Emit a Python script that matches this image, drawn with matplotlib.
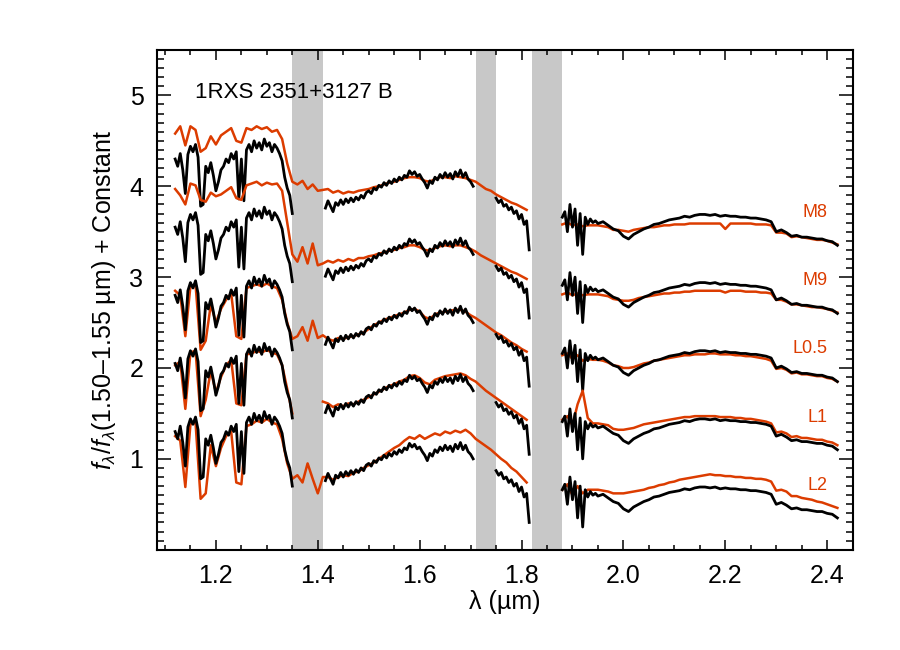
import numpy as np
import matplotlib
matplotlib.use('Agg')
import matplotlib.pyplot as plt
from matplotlib.ticker import MultipleLocator, FormatStrFormatter

plt.rcParams['font.family'] = ['Liberation Sans', 'DejaVu Sans']
plt.rcParams['mathtext.fontset'] = 'custom'
plt.rcParams['mathtext.rm'] = 'Liberation Sans'
plt.rcParams['mathtext.it'] = 'Liberation Sans:italic'

nan = np.nan

## object spectrum (1RXS 2351+3127 B), normalised at 1.50-1.55 um
obj_j = [1.30, 1.22, 1.36, 1.18, 0.92, 1.35, 1.44, 1.38, 1.46, 1.32,
         0.78, 0.80, 1.22, 1.15, 1.26, 1.12, 0.95, 1.05, 1.18, 1.22,
         1.30, 1.26, 1.36, 1.30, 1.38, 0.86, 1.30, 0.84, 1.40, 1.46,
         1.38, 1.50, 1.42, 1.48, 1.40, 1.52, 1.44, 1.48, 1.38, 1.46,
         1.42, 1.36, 1.28, 1.10, 0.98, 0.90, 0.70]
obj_h = [0.76, 0.84, 0.78, 0.72, 0.82, 0.79, 0.85, 0.80, 0.86, 0.82,
         0.87, 0.83, 0.88, 0.85, 0.90, 0.87, 0.93, 0.95, 0.92, 0.98,
         0.96, 1.01, 0.99, 1.04, 1.01, 1.06, 1.03, 1.08, 1.05, 1.10,
         1.07, 1.12, 1.10, 1.17, 1.13, 1.16, 1.11, 1.13, 1.08, 1.04,
         0.98, 1.06, 1.03, 1.10, 1.07, 1.13, 1.09, 1.15, 1.10, 1.14,
         1.08, 1.16, 1.11, 1.18, 1.10, 1.15, 1.08, 1.05, 1.00]
obj_h2 = [0.87, 0.82, 0.85, 0.78, 0.80, 0.74, 0.77, 0.70, 0.73, 0.64,
          0.69, 0.58, 0.62, 0.30]
obj_k1 = [0.66, 0.72, 0.50, 0.80, 0.55, 0.75, 0.35, 0.70, 0.25, 0.66,
          0.58, 0.64, 0.60, 0.62, 0.59]
obj_k2 = [0.61, 0.57, 0.53, 0.51, 0.45, 0.42, 0.47, 0.50, 0.53, 0.55,
          0.58, 0.59, 0.61, 0.63, 0.64, 0.65, 0.67, 0.66, 0.68, 0.69,
          0.69, 0.68, 0.69, 0.67, 0.68, 0.67, 0.67, 0.66, 0.66, 0.65,
          0.65, 0.64, 0.63, 0.61, 0.50, 0.52, 0.49, 0.45, 0.46, 0.44,
          0.44, 0.43, 0.42, 0.42, 0.40, 0.39, 0.35]

## templates, 1.12-1.81 um and 1.88-2.42 um in 0.01 um steps
m8_jh = [1.58, 1.66, 1.45, 1.66, 1.62, 1.38, 1.42, 1.55, 1.46, 1.56,
         1.60, 1.64, 1.50, 1.48, 1.64, 1.62, 1.66, 1.63, 1.65, 1.60,
         1.62, 1.52, 1.25, 1.05, 1.02, 1.06, 0.97, 1.02, 0.95, 0.96,
         0.97, 0.93, 0.95, 0.92, 0.94, 0.93, 0.95, 0.96, 0.97, 0.99,
         1.00, 1.02, 1.04, 1.05, 1.07, 1.09, 1.10, 1.10, 1.09, 1.06,
         1.05, 1.08, 1.10, 1.10, 1.09, 1.11, 1.10, 1.09, 1.07, 1.05,
         1.01, 0.97, 0.95, 0.91, 0.88, 0.85, 0.82, 0.80, 0.77, 0.74]
m8_k = [0.58, 0.60, 0.57, 0.58, 0.56, 0.57, 0.57, 0.57, 0.56, 0.55,
        0.52, 0.52, 0.51, 0.50, 0.52, 0.53, 0.54, 0.55, 0.55, 0.56,
        0.57, 0.57, 0.58, 0.58, 0.58, 0.59, 0.59, 0.59, 0.59, 0.59,
        0.59, 0.59, 0.53, 0.59, 0.59, 0.59, 0.59, 0.59, 0.58, 0.58,
        0.58, 0.57, 0.49, 0.49, 0.48, 0.44, 0.45, 0.44, 0.43, 0.42,
        0.41, 0.41, 0.40, 0.38, 0.36]

m9_jh = [1.72, 1.65, 1.55, 1.78, 1.76, 1.60, 1.58, 1.68, 1.64, 1.66,
         1.70, 1.74, 1.62, 1.60, 1.76, 1.78, 1.80, 1.76, 1.79, 1.77,
         1.78, 1.70, 1.35, 1.00, 0.92, 1.08, 0.90, 1.12, 0.88, 0.90,
         0.93, 0.91, 0.94, 0.92, 0.95, 0.93, 0.96, 0.96, 0.98, 0.99,
         1.01, 1.02, 1.04, 1.05, 1.07, 1.08, 1.10, 1.10, 1.08, 1.05,
         1.04, 1.07, 1.09, 1.10, 1.09, 1.10, 1.10, 1.08, 1.06, 1.03,
         0.99, 0.96, 0.93, 0.90, 0.87, 0.84, 0.81, 0.79, 0.76, 0.73]
m9_k = [0.56, 0.58, 0.55, 0.57, 0.55, 0.56, 0.56, 0.56, 0.55, 0.54,
        0.51, 0.50, 0.49, 0.49, 0.50, 0.52, 0.53, 0.54, 0.55, 0.56,
        0.57, 0.57, 0.58, 0.58, 0.59, 0.59, 0.60, 0.60, 0.60, 0.60,
        0.60, 0.60, 0.58, 0.60, 0.60, 0.60, 0.59, 0.59, 0.59, 0.58,
        0.58, 0.57, 0.50, 0.50, 0.48, 0.45, 0.45, 0.44, 0.43, 0.42,
        0.42, 0.41, 0.40, 0.38, 0.36]

l05_jh = [1.35, 1.30, 0.85, 1.40, 1.42, 0.70, 0.80, 1.20, 1.00, 1.15,
          1.25, 1.32, 0.85, 0.82, 1.38, 1.40, 1.42, 1.40, 1.43, 1.40,
          1.38, 1.25, 1.00, 0.82, 0.85, 0.95, 0.80, 1.02, 0.83, 0.86,
          0.82, 0.80, 0.83, 0.82, 0.84, 0.85, 0.87, 0.89, 0.93, 0.97,
          1.00, 1.03, 1.05, 1.07, 1.09, 1.11, 1.14, 1.15, 1.12, 1.06,
          1.04, 1.09, 1.11, 1.12, 1.13, 1.14, 1.14, 1.12, 1.08, 1.05,
          1.01, 0.97, 0.93, 0.89, 0.86, 0.82, 0.78, 0.75, 0.71, 0.68]
l05_k = [0.64, 0.66, 0.60, 0.64, 0.58, 0.60, 0.59, 0.59, 0.58, 0.56,
         0.53, 0.52, 0.50, 0.50, 0.51, 0.53, 0.55, 0.56, 0.58, 0.59,
         0.60, 0.61, 0.62, 0.63, 0.64, 0.64, 0.65, 0.65, 0.65, 0.66,
         0.66, 0.65, 0.65, 0.65, 0.64, 0.64, 0.63, 0.63, 0.62, 0.61,
         0.60, 0.58, 0.49, 0.50, 0.48, 0.44, 0.45, 0.43, 0.43, 0.42,
         0.41, 0.41, 0.39, 0.38, 0.35]

l1_jh = [1.28, 1.32, 0.80, 1.42, 1.44, 0.72, 0.90, 1.22, 0.98, 1.15,
         1.28, 1.34, 0.86, 0.84, 1.40, 1.41, 1.44, 1.42, 1.45, 1.42,
         1.40, 1.28, 1.02, 0.75, nan, nan, nan, nan, nan, 0.88,
         0.86, 0.82, 0.85, 0.83, 0.86, 0.85, 0.88, 0.90, 0.93, 0.96,
         0.99, 1.02, 1.05, 1.07, 1.10, 1.12, 1.16, 1.17, 1.14, 1.09,
         1.07, 1.12, 1.14, 1.16, 1.17, 1.18, 1.19, 1.17, 1.13, 1.10,
         1.05, 1.00, 0.96, 0.92, 0.88, 0.84, 0.80, 0.76, 0.72, 0.68]
l1_k = [0.68, 0.72, 0.62, 0.85, 1.00, 0.70, 0.64, 0.64, 0.63, 0.62,
        0.58, 0.57, 0.57, 0.58, 0.59, 0.61, 0.63, 0.64, 0.65, 0.66,
        0.67, 0.68, 0.69, 0.70, 0.71, 0.71, 0.72, 0.72, 0.72, 0.72,
        0.72, 0.71, 0.71, 0.71, 0.70, 0.70, 0.69, 0.69, 0.68, 0.67,
        0.66, 0.64, 0.54, 0.55, 0.53, 0.49, 0.50, 0.48, 0.48, 0.47,
        0.46, 0.46, 0.44, 0.43, 0.40]

l2_jh = [1.25, 1.20, 0.69, 1.38, 1.40, 0.56, 0.62, 1.15, 0.92, 1.12,
         1.25, 1.30, 0.74, 0.72, 1.36, 1.38, 1.42, 1.40, 1.44, 1.40,
         1.38, 1.22, 0.95, 0.78, 0.82, 0.74, 0.95, 0.78, 0.62, 0.80,
         0.80, 0.77, 0.80, 0.82, 0.81, 0.85, 0.86, 0.90, 0.93, 0.96,
         1.00, 1.04, 1.08, 1.12, 1.15, 1.20, 1.24, 1.22, 1.26, 1.22,
         1.25, 1.28, 1.26, 1.30, 1.28, 1.31, 1.29, 1.32, 1.28, 1.22,
         1.18, 1.14, 1.10, 1.05, 1.00, 0.96, 0.90, 0.86, 0.80, 0.74]
l2_k = [0.66, 0.72, 0.60, 0.70, 0.62, 0.66, 0.66, 0.66, 0.65, 0.64,
        0.62, 0.62, 0.62, 0.63, 0.64, 0.65, 0.66, 0.68, 0.69, 0.71,
        0.72, 0.74, 0.75, 0.77, 0.78, 0.79, 0.80, 0.81, 0.82, 0.83,
        0.82, 0.82, 0.81, 0.81, 0.80, 0.80, 0.79, 0.79, 0.78, 0.78,
        0.77, 0.75, 0.65, 0.66, 0.64, 0.59, 0.59, 0.57, 0.56, 0.55,
        0.53, 0.52, 0.50, 0.48, 0.46]

spt_labels = ['M8', 'M9', 'L0.5', 'L1', 'L2']
offsets = [3.0, 2.25, 1.5, 0.75, 0.0]
bands = [(1.35, 1.41), (1.71, 1.75), (1.82, 1.88)]

## wavelength grids (integer nm steps so the counts are exact)
obj_wave = np.concatenate([np.arange(1120, 1351, 5), [1380], np.arange(1415, 1706, 5), [1730],
                           np.arange(1750, 1816, 5), [1850], np.arange(1880, 1951, 5),
                           np.arange(1960, 2421, 10)]) / 1000.
obj_flux = np.array(obj_j + [nan] + obj_h + [nan] + obj_h2 + [nan] + obj_k1 + obj_k2)
tpl_wave = np.concatenate([np.arange(1120, 1811, 10), [1850], np.arange(1880, 2421, 10)]) / 1000.
templates = [np.array(jh + [nan] + k) for jh, k in
             [(m8_jh, m8_k), (m9_jh, m9_k), (l05_jh, l05_k), (l1_jh, l1_k), (l2_jh, l2_k)]]

orange = '#DC3C00'

fig = plt.figure(figsize=(9, 6.5), dpi=100)
ax = fig.add_axes([0.1748, 0.1543, 0.7726, 0.7688])

for lo, hi in bands:
    ax.axvspan(lo, hi, color='#c8c8c8', lw=0, zorder=0)

for i in range(len(spt_labels)):
    off = offsets[i]
    ax.plot(tpl_wave, templates[i] + off, color=orange, lw=1.8, zorder=2 + 2 * i)
    ax.plot(obj_wave, obj_flux + off, color='k', lw=2.0, zorder=3 + 2 * i)
    ax.text(2.40, off + 0.71, spt_labels[i], color=orange, ha='right', va='center',
            fontsize=13, zorder=20)

ax.text(1.158, 5.03, '1RXS 2351+3127 B', fontsize=16, va='center')

ax.set_xlim(1.085, 2.45)
ax.set_ylim(0, 5.5)
ax.xaxis.set_major_locator(MultipleLocator(0.2))
ax.xaxis.set_minor_locator(MultipleLocator(0.05))
ax.xaxis.set_major_formatter(FormatStrFormatter('%.1f'))
ax.set_yticks([1, 2, 3, 4, 5])
ax.yaxis.set_minor_locator(MultipleLocator(0.1))
ax.tick_params(which='both', direction='in', top=True, right=True, width=1.1)
ax.tick_params(axis='x', which='major', length=7, labelsize=18, pad=10)
ax.tick_params(axis='x', which='minor', length=3.5)
ax.tick_params(axis='y', which='major', length=10, labelsize=18, pad=10)
ax.tick_params(axis='y', which='minor', length=5)
for sp in ax.spines.values():
    sp.set_linewidth(1.5)

ax.set_xlabel('λ (µm)', fontsize=18, labelpad=2)
ax.set_ylabel(r'$f_\lambda/f_\lambda$(1.50–1.55 µm) + Constant', fontsize=18, labelpad=8)

fig.savefig('out.png', dpi=100)
